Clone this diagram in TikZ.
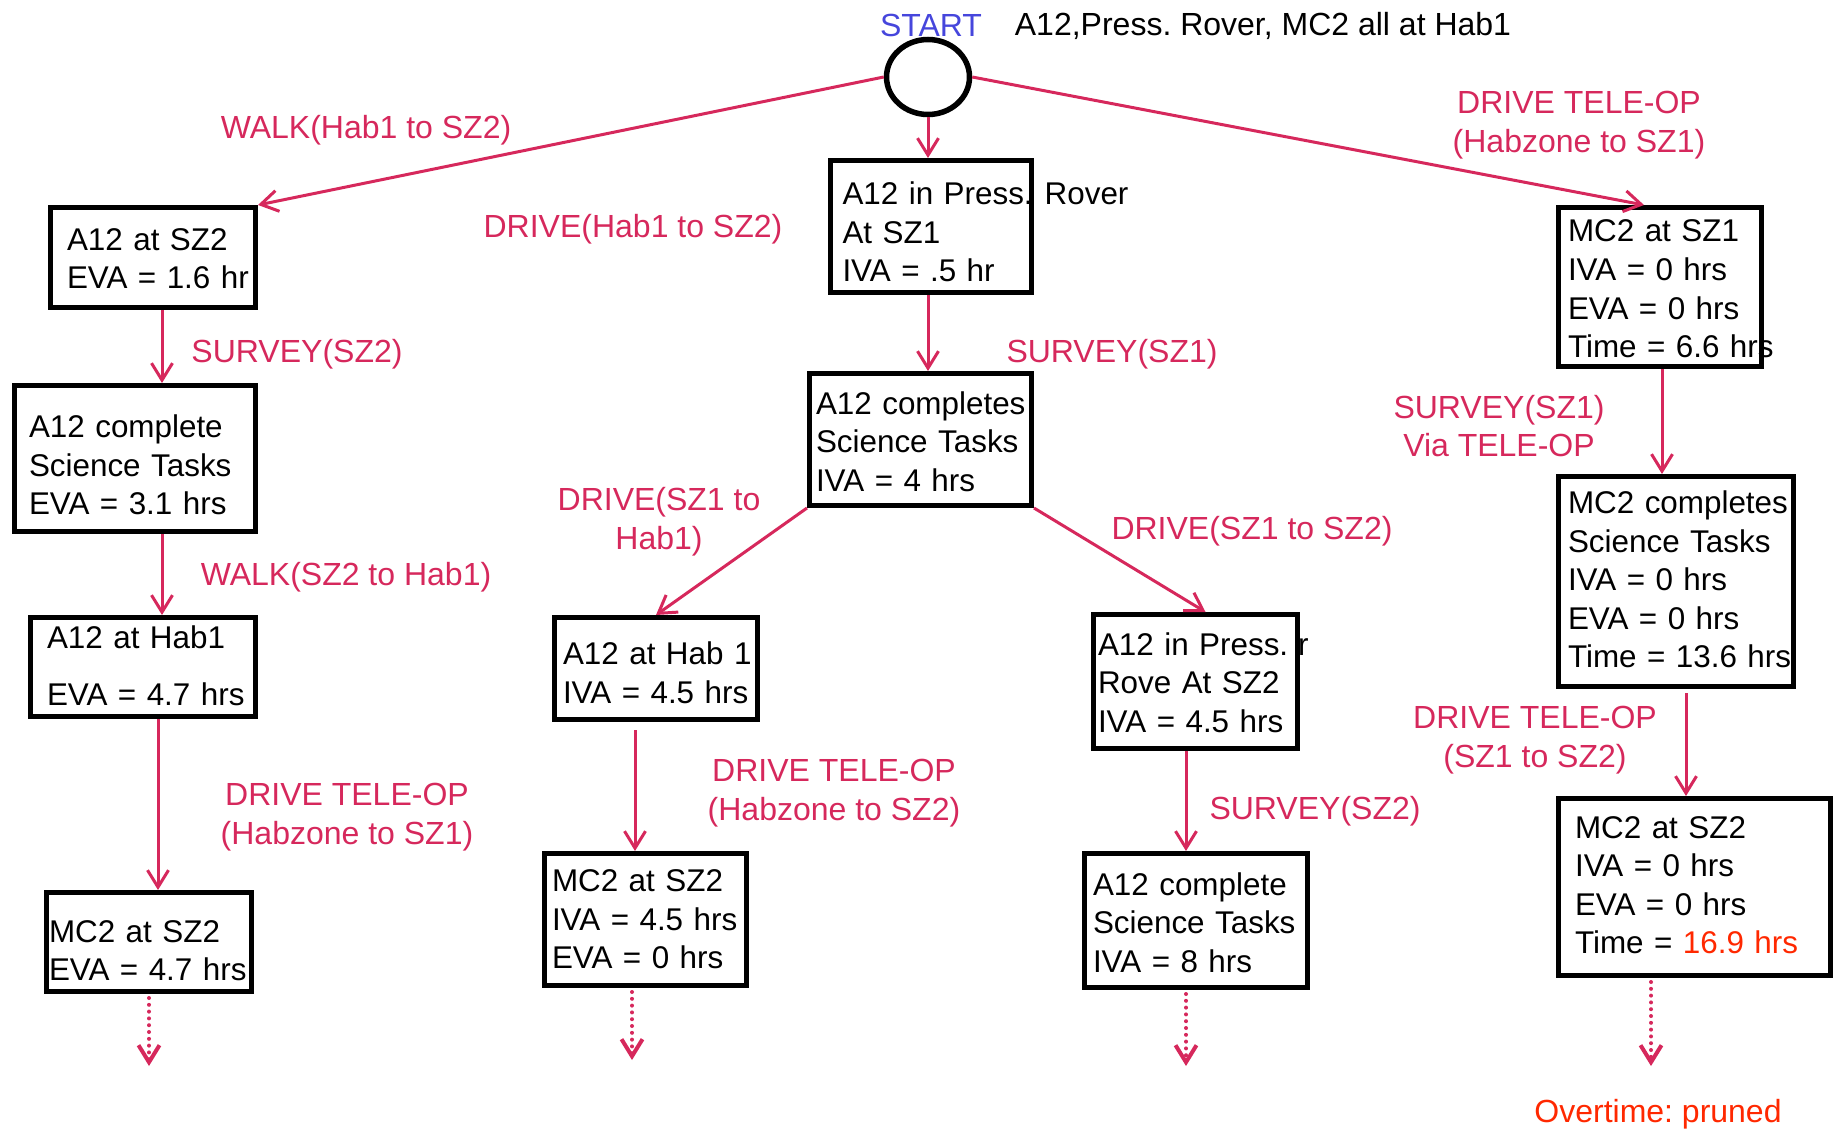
\documentclass[tikz,border=0pt]{standalone}
\usepackage{fontspec}
\setmainfont{Liberation Sans}
\usepackage{xcolor}
\usepackage{tikz}
\usetikzlibrary{
    arrows.meta,
    positioning,
    shapes.geometric
}
\definecolor{actpink}{RGB}{214,40,92}
\definecolor{startblue}{RGB}{70,70,220}
\definecolor{overred}{RGB}{255,40,0}
\frenchspacing
\tikzset{
    statebox/.style={
        draw=black,
        line width=2.5pt,
        rectangle,
        anchor=north west,
        align=left,
        inner ysep=0pt,
        font=\fontsize{15.7}{19.3}\selectfont
    }
}
\tikzset{
    actlabel/.style={
        text=actpink,
        align=center,
        inner sep=0pt
    }
}
\tikzset{
    actarrow/.style={
        draw=actpink,
        line width=1.5pt,
        -{Straight Barb[length=8.5pt,width=10.5pt]}
    }
}
\tikzset{
    nextarrow/.style={
        actarrow,
        line width=2pt,
        line cap=round,
        dash pattern=on 0pt off 3.4pt,
        shorten <=2pt
    }
}

\begin{document}
\begin{tikzpicture}[
    x=0.5pt, y=-0.5pt,
    font=\fontsize{16}{19.3}\selectfont
]
\useasboundingbox (0,0) rectangle (1836,1129);

% =========================================================
% Start
% =========================================================

\node[
    draw,
    line width=2.75pt,
    ellipse,
    minimum width=41.5pt,
    minimum height=37.5pt,
    inner sep=0pt
] (start) at (928,77) {};

\node[text=startblue, inner sep=0pt] (starttxt) at (931,25) {START};
\node[inner sep=0pt] (setup) at (1263,26) {A12,Press. Rover, MC2 all at Hab1};


% =========================================================
% Walk branch
% =========================================================

\node[statebox, inner xsep=8.25pt, text width=86pt, text height=21.3pt, text depth=28.7pt] (l1) at (48,205) {
    \begin{tabular}[t]{@{}l@{}}
        A12 at SZ2 \\
        EVA = 1.6 hr
    \end{tabular}
};

\node[statebox, inner xsep=7.25pt, text width=106pt, text height=26pt, text depth=47pt] (l2) at (12,383) {
    \begin{tabular}[t]{@{}l@{}}
        A12 complete \\
        Science Tasks \\
        EVA = 3.1 hrs
    \end{tabular}
};

\node[statebox, inner xsep=8.25pt, text width=96pt, text height=15.25pt, text depth=34.25pt] (l3) at (28,615) {
    \begin{tabular}[t]{@{}l@{}}
        A12 at Hab1 \\[9.5pt]
        EVA = 4.7 hrs
    \end{tabular}
};

\node[statebox, inner xsep=1.25pt, text width=100pt, text height=24.75pt, text depth=24.75pt] (l4) at (44,890) {
    \begin{tabular}[t]{@{}l@{}}
        MC2 at SZ2 \\
        EVA = 4.7 hrs
    \end{tabular}
};

\node[actlabel] (walkout) at (366,130) {WALK(Hab1 to SZ2)};
\node[actlabel] (surveytwo) at (297,354) {SURVEY(SZ2)};
\node[actlabel] (walkback) at (346,577) {WALK(SZ2 to Hab1)};
\node[actlabel] (teleone) at (347,817) {DRIVE TELE-OP\\(Habzone to SZ1)};


% =========================================================
% Drive branch
% =========================================================

\node[statebox, inner xsep=6pt, text width=88.5pt, text height=22pt, text depth=44pt] (m1) at (828,158) {
    \begin{tabular}[t]{@{}l@{}}
        A12 in Press.\rlap{\hspace{6pt}Rover} \\
        At SZ1 \\
        IVA = .5 hr
    \end{tabular}
};

\node[statebox, inner xsep=3.25pt, text width=104.5pt, text height=20.25pt, text depth=45.75pt] (m2) at (807,371) {
    \begin{tabular}[t]{@{}l@{}}
        A12 completes \\
        Science Tasks \\
        IVA = 4 hrs
    \end{tabular}
};

\node[statebox, inner xsep=4.25pt, text width=93pt, text height=23.5pt, text depth=27.5pt] (m3) at (552,615) {
    \begin{tabular}[t]{@{}l@{}}
        A12 at Hab 1 \\
        IVA = 4.5 hrs
    \end{tabular}
};

\node[statebox, inner xsep=3.75pt, text width=93.5pt, text height=19pt, text depth=47pt] (m4) at (542,851) {
    \begin{tabular}[t]{@{}l@{}}
        MC2 at SZ2 \\
        IVA = 4.5 hrs \\
        EVA = 0 hrs
    \end{tabular}
};

\node[statebox, inner xsep=2.25pt, text width=97.5pt, text height=20.4pt, text depth=46.6pt] (r1) at (1091,612) {
    \begin{tabular}[t]{@{}l@{}}
        A12 in Press.\rlap{\hspace{5pt}r} \\
        Rove At SZ2 \\
        IVA = 4.5 hrs
    \end{tabular}
};

\node[statebox, inner xsep=4.25pt, text width=103pt, text height=20.9pt, text depth=46.1pt] (r2) at (1082,851) {
    \begin{tabular}[t]{@{}l@{}}
        A12 complete \\
        Science Tasks \\
        IVA = 8 hrs
    \end{tabular}
};

\node[actlabel] (driveout) at (633,229) {DRIVE(Hab1 to SZ2)};
\node[actlabel] (surveyone) at (1112,354) {SURVEY(SZ1)};
\node[actlabel] (drivehome) at (659,522) {DRIVE(SZ1 to\\Hab1)};
\node[actlabel] (driveon) at (1252,531) {DRIVE(SZ1 to SZ2)};
\node[actlabel] (teletwo) at (834,793) {DRIVE TELE-OP\\(Habzone to SZ2)};
\node[actlabel] (surveyrove) at (1315,811) {SURVEY(SZ2)};


% =========================================================
% Tele-op branch
% =========================================================

\node[statebox, inner xsep=4.75pt, text width=92pt, text height=17.2pt, text depth=62.3pt] (f1) at (1556,205) {
    \begin{tabular}[t]{@{}l@{}}
        MC2 at SZ1 \\
        IVA = 0 hrs \\
        EVA = 0 hrs \\
        Time = 6.6 hrs
    \end{tabular}
};

\node[statebox, inner xsep=4.75pt, text width=108pt, text height=18.5pt, text depth=86.5pt] (f2) at (1556,474) {
    \begin{tabular}[t]{@{}l@{}}
        MC2 completes \\
        Science Tasks \\
        IVA = 0 hrs \\
        EVA = 0 hrs \\
        Time = 13.6 hrs
    \end{tabular}
};

\node[statebox, inner xsep=8.25pt, text width=119.5pt, text height=19.75pt, text depth=68.75pt] (f3) at (1556,796) {
    \begin{tabular}[t]{@{}l@{}}
        MC2 at SZ2 \\
        IVA = 0 hrs \\
        EVA = 0 hrs \\
        Time = \textcolor{overred}{16.9 hrs}
    \end{tabular}
};

\node[actlabel] (teleout) at (1579,125) {DRIVE TELE-OP\\(Habzone to SZ1)};
\node[actlabel] (surveytele) at (1499,426) {SURVEY(SZ1)\\Via TELE-OP};
\node[actlabel] (telemove) at (1535,740) {DRIVE TELE-OP\\(SZ1 to SZ2)};
\node[text=overred, inner sep=0pt] (pruned) at (1658,1114) {Overtime: pruned};


% =========================================================
% Connectors
% =========================================================

\draw[actarrow] (start.west) -- (l1.north east);
\draw[actarrow] (start.south) -- (start.south |- m1.north);
\draw[actarrow] (start.east) -- ([xshift=-8pt]f1.north);

\draw[actarrow] ([xshift=4.5pt]l1.south) -- ([xshift=4.5pt]l1.south |- l2.north);
\draw[actarrow] ([xshift=13.5pt]l2.south) -- ([xshift=13.5pt]l2.south |- l3.north);
\draw[actarrow] ([xshift=7.5pt]l3.south) -- ([xshift=7.5pt]l3.south |- l4.north);

\draw[actarrow] ([xshift=-1.5pt]m1.south) -- ([xshift=-1.5pt]m1.south |- m2.north);
\draw[actarrow] (m2.south west) -- (m3.north);
\draw[actarrow] (m2.south east) -- ([xshift=5pt]r1.north);
\draw[actarrow, shorten <=4pt] ([xshift=-10.5pt]m3.south) -- ([xshift=-10.5pt]m3.south |- m4.north);
\draw[actarrow] ([xshift=-4.75pt]r1.south) -- ([xshift=-4.75pt]r1.south |- r2.north);

\draw[actarrow] ([xshift=1pt]f1.south) -- ([xshift=1pt]f1.south |- f2.north);
\draw[actarrow, shorten <=2pt] ([xshift=5pt]f2.south) -- ([xshift=5pt]f2.south |- f3.north);

% pending expansions
\coordinate (l4next) at (149,1066);
\coordinate (m4next) at (632,1060);
\coordinate (r2next) at (1186,1066);
\coordinate (f3next) at (1651,1066);

\draw[nextarrow] (l4next |- l4.south) -- (l4next);
\draw[nextarrow] (m4next |- m4.south) -- (m4next);
\draw[nextarrow] (r2next |- r2.south) -- (r2next);
\draw[nextarrow] (f3next |- f3.south) -- (f3next);

\end{tikzpicture}
\end{document}
